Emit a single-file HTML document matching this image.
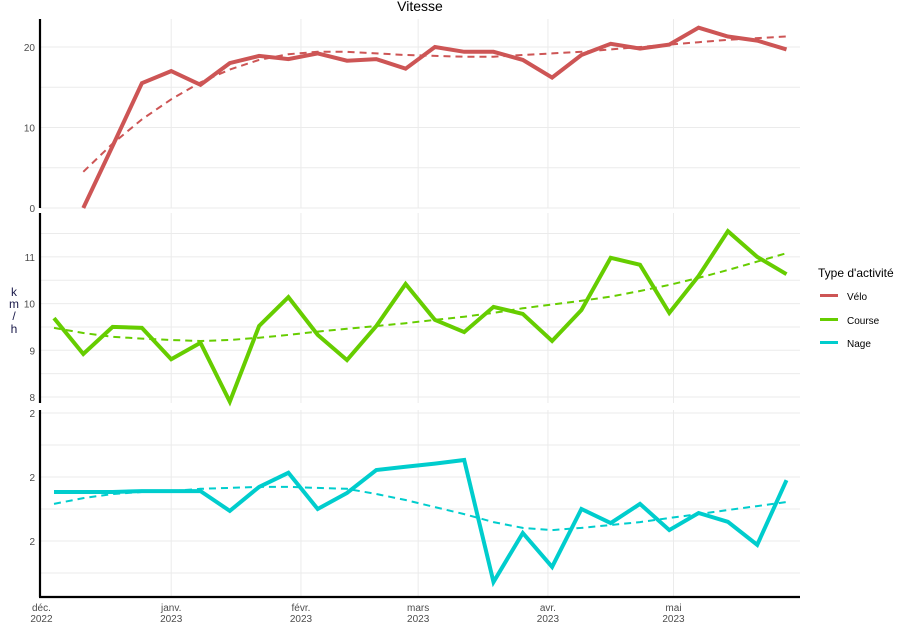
<!DOCTYPE html>
<html><head><meta charset="utf-8"><style>
body{margin:0;background:#fff;font-family:"Liberation Sans",sans-serif;}
svg{display:block}
</style></head><body>
<svg id="c" width="912" height="630" xmlns="http://www.w3.org/2000/svg">
<text x="420" y="11" text-anchor="middle" font-size="14" fill="#000">Vitesse</text>
<g font-size="12" fill="#1a1a4a" text-anchor="middle">
<text x="14" y="296">k</text><text x="14" y="308">m</text><text x="14" y="320">/</text><text x="14" y="333">h</text>
</g>
<g>
<text x="818" y="277" font-size="12" fill="#000">Type d'activité</text>
<g><rect x="820" y="294" width="18" height="3" fill="#cd5555"/><text x="847" y="300" font-size="10">Vélo</text></g>
<g><rect x="820" y="318" width="18" height="3" fill="#66cd00"/><text x="847" y="324" font-size="10">Course</text></g>
<g><rect x="820" y="341" width="18" height="3" fill="#00cdcd"/><text x="847" y="347" font-size="10">Nage</text></g>
</g>
</svg>
<script>
const weeks = 26; // weekly points starting 4 Dec 2022
const veloValues = [null,0,7.7,15.5,17.0,15.3,18.0,18.9,18.5,19.2,18.3,18.5,17.3,20.0,19.4,19.4,18.4,16.2,19.0,20.4,19.8,20.3,22.4,21.3,20.8,19.7];
const veloTrend = [null,4.5,8,11,13.5,15.6,17.2,18.4,19.1,19.4,19.4,19.2,19.0,18.9,18.8,18.8,19.0,19.2,19.4,19.7,20.0,20.3,20.6,20.9,21.1,21.3];
const courseValues = [9.69,8.92,9.5,9.48,8.81,9.16,7.9,9.52,10.14,9.33,8.79,9.52,10.42,9.65,9.39,9.93,9.78,9.2,9.86,10.98,10.83,9.8,10.59,11.55,11.0,10.63];
const courseTrend = [9.48,9.37,9.29,9.25,9.22,9.2,9.22,9.27,9.33,9.4,9.46,9.52,9.58,9.65,9.72,9.8,9.9,9.98,10.06,10.15,10.27,10.4,10.55,10.72,10.9,11.08];
const nageValues = [2.153,2.153,2.153,2.156,2.156,2.156,2.094,2.169,2.213,2.1,2.15,2.222,2.232,2.242,2.253,1.872,2.025,1.919,2.1,2.056,2.116,2.034,2.0875,2.06,1.988,2.19];
const nageTrend = [2.116,2.134,2.147,2.153,2.156,2.163,2.166,2.169,2.169,2.166,2.163,2.147,2.128,2.106,2.084,2.059,2.041,2.034,2.041,2.05,2.059,2.072,2.084,2.097,2.109,2.122];
const xTickLabels = [["déc.","2022"],["janv.","2023"],["févr.","2023"],["mars","2023"],["avr.","2023"],["mai","2023"]];
const xTickDays = [-3,28,59,87,118,148]; // days relative to first point (4 Dec)
const veloTicks = [0,10,20], courseTicks=[8,9,10,11], nageTicks=[2.0,2.2,2.4];

const svg=document.getElementById('c');
const NS='http://www.w3.org/2000/svg';
function el(t,a,p){const e=document.createElementNS(NS,t);for(const k in a)e.setAttribute(k,a[k]);(p||svg).appendChild(e);return e;}
const X0=40,X1=800;
function xDay(d){return 54+d*(29.3/7);}
function xIdx(i){return xDay(i*7);}
const panels=[
 {name:'velo',top:19,bot:208,y:v=>208-v*8.05,ticks:veloTicks,minor:[5,15],lab:v=>String(v),vals:veloValues,trend:veloTrend,col:'#cd5555'},
 {name:'course',top:213,bot:403,y:v=>397-(v-8)*46.7,ticks:courseTicks,minor:[8.5,9.5,10.5,11.5],lab:v=>String(v),vals:courseValues,trend:courseTrend,col:'#66cd00'},
 {name:'nage',top:410,bot:597,y:v=>541-(v-2)*320,ticks:nageTicks,minor:[1.9,2.1,2.3],lab:v=>'2',vals:nageValues,trend:nageTrend,col:'#00cdcd'}
];
panels.forEach(p=>{
 const g=el('g',{});
 
 
 p.minor.concat(p.ticks).forEach(v=>{const y=p.y(v);if(y<p.top-1||y>p.bot+1)return;
  const l=el('line',{x1:X0,x2:X1,y1:y,y2:y,stroke:'#ebebeb','stroke-width':1},g);
  
  });
 xTickDays.forEach(d=>{const x=xDay(d);if(x<=X0+2)return;
  const l=el('line',{x1:x,x2:x,y1:p.top,y2:p.bot,stroke:'#ebebeb','stroke-width':1},g);
  
  });
 p.ticks.forEach(v=>{const t=el('text',{x:35,y:p.y(v)+4,'text-anchor':'end','font-size':10,fill:'#4d4d4d'},g);t.textContent=p.lab(v);
  
  });
 const ax=el('line',{x1:X0,x2:X0,y1:p.top,y2:p.bot,stroke:'#000','stroke-width':2.2},g);
 
 
 function path(arr){let d='',s=false;arr.forEach((v,i)=>{if(v==null){s=false;return;}d+=(s?'L':'M')+xIdx(i).toFixed(1)+','+p.y(v).toFixed(1);s=true;});return d;}
 const tr=el('path',{d:path(p.trend),fill:'none',stroke:p.col,'stroke-width':2,'stroke-dasharray':'7,5'},g);
 
 
 const ln=el('path',{d:path(p.vals),fill:'none',stroke:p.col,'stroke-width':4,'stroke-linejoin':'miter'},g);
 
 
});
const xa=el('line',{x1:X0-1,x2:X1,y1:597,y2:597,stroke:'#000','stroke-width':2.2});


xTickLabels.forEach((lb,i)=>{const x=Math.max(xDay(xTickDays[i]),40);
 const t=el('text',{x:x,y:611,'text-anchor':'middle','font-size':10,fill:'#4d4d4d'});
 
 
 const a=el('tspan',{x:x,dy:0},t);a.textContent=lb[0];
 const b=el('tspan',{x:x,dy:11},t);b.textContent=lb[1];});
</script>
</body></html>
